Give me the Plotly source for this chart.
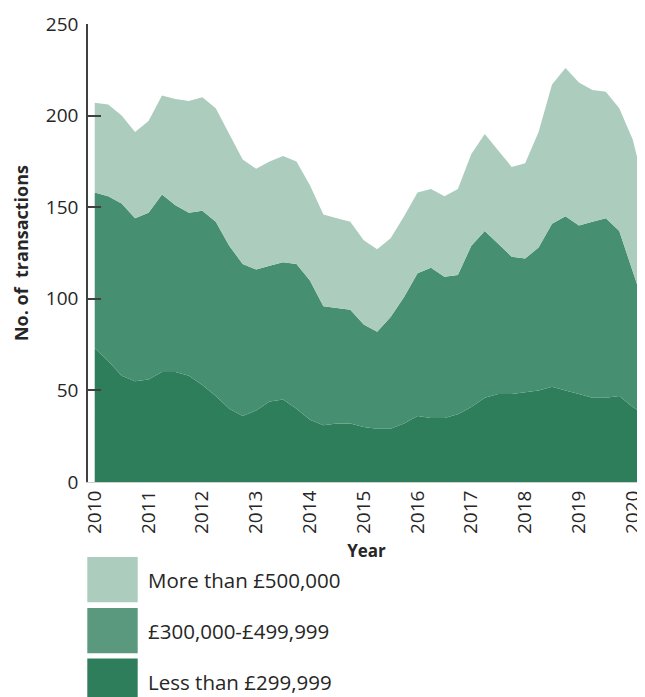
import plotly.graph_objects as go

# ---- data (quarterly) ----
quarters = [f"{y} Q{q}" for y in range(2010, 2021) for q in range(1, 5)][:42]

less_than_299k = [73, 66, 58, 55, 56, 60, 60, 58, 53, 47, 40, 36, 39, 44, 45, 40,
                  34, 31, 32, 32, 30, 29, 29, 32, 36, 35, 35, 37, 41, 46, 48, 48,
                  49, 50, 52, 50, 48, 46, 46, 47, 41, 36]
between_300k_499k = [85, 90, 94, 89, 91, 97, 91, 89, 95, 95, 89, 83, 77, 74, 75, 79,
                     76, 65, 63, 62, 56, 53, 61, 69, 78, 82, 77, 76, 88, 91, 82, 75,
                     73, 78, 89, 95, 92, 96, 98, 90, 74, 57]
more_than_500k = [49, 50, 48, 47, 50, 54, 58, 61, 62, 62, 61, 57, 55, 57, 58, 56,
                  52, 50, 49, 48, 46, 45, 43, 44, 44, 43, 44, 47, 50, 53, 51, 49,
                  52, 63, 76, 81, 78, 72, 69, 67, 72, 64]

series_names = ["More than £500,000", "£300,000-£499,999", "Less than £299,999"]
year_ticks = list(range(2010, 2021))
y_ticks = [0, 50, 100, 150, 200, 250]

# numeric x position for each quarter label
x_vals = [int(s[:4]) + (int(s[-1]) - 1) / 4 for s in quarters]

# ---- styling ----
c_light = "#ACCCBE"
c_mid = "#468F70"
c_dark = "#2E7E5C"
legend_colors = ["#ACCCBE", "#5A997D", "#2E7E5C"]

OFF = 8                       # page body margin offset
W, H = 645 - OFF, 697 - OFF
ML, MR, MT = 88 - OFF, 0, 24 - OFF
PLOT_BOTTOM = 482.3 - OFF
MB = H - PLOT_BOTTOM
PW, PH = W - ML - MR, H - MT - MB


def px_x(p):
    return (p - OFF - ML) / PW


def px_y(p):
    return (PLOT_BOTTOM - (p - OFF)) / PH


fig = go.Figure()
for vals, name, col in [(less_than_299k, series_names[2], c_dark),
                        (between_300k_499k, series_names[1], c_mid),
                        (more_than_500k, series_names[0], c_light)]:
    fig.add_trace(go.Scatter(
        x=x_vals, y=vals, name=name, mode="none", stackgroup="one",
        fillcolor=col, line=dict(width=0), hoverinfo="x+y+name",
    ))

# legend drawn as large swatches
box_tops = [557.3, 608.3, 659.0]
for name, col, top in zip(series_names, legend_colors, box_tops):
    fig.add_shape(type="rect", xref="paper", yref="paper",
                  x0=px_x(87.3), x1=px_x(137.7), y0=px_y(top + 45.4), y1=px_y(top),
                  fillcolor=col, line=dict(width=0), layer="above")
    fig.add_annotation(xref="paper", yref="paper", x=px_x(146), y=px_y(top + 23),
                       text=name, showarrow=False, xanchor="left", yanchor="middle",
                       font=dict(family="Open Sans", size=20.5, color="#262626"))

fig.update_layout(
    width=W, height=H,
    margin=dict(l=ML, r=MR, t=MT, b=MB, pad=0),
    plot_bgcolor="white", paper_bgcolor="white",
    showlegend=False,
    font=dict(family="Open Sans", color="#262626"),
)

fig.update_xaxes(
    range=[2009.875, 2020.228], automargin=False,
    tickmode="array", tickvals=year_ticks, ticktext=[str(y) for y in year_ticks],
    tickangle=-90, ticks="", showgrid=False, zeroline=False,
    showline=True, linecolor="#D0D0D0", linewidth=1,
    tickfont=dict(family="Open Sans", size=19, color="#262626"),
    title=dict(text="<b>Year</b>", font=dict(family="Open Sans", size=17, color="#262626"),
               standoff=12),
)
fig.update_yaxes(
    range=[0, 250], tickmode="array", tickvals=y_ticks, automargin=False,
    ticks="inside", ticklen=13, tickwidth=1.5, tickcolor="#404040",
    showline=True, linecolor="#404040", linewidth=1.5,
    showgrid=False, zeroline=False, ticklabelstandoff=4,
    tickfont=dict(family="Open Sans", size=19, color="#262626"),
    title=dict(text="<b>No. of  transactions</b>",
               font=dict(family="Open Sans", size=18, color="#262626"), standoff=13),
)

fig.write_html("out.html")
